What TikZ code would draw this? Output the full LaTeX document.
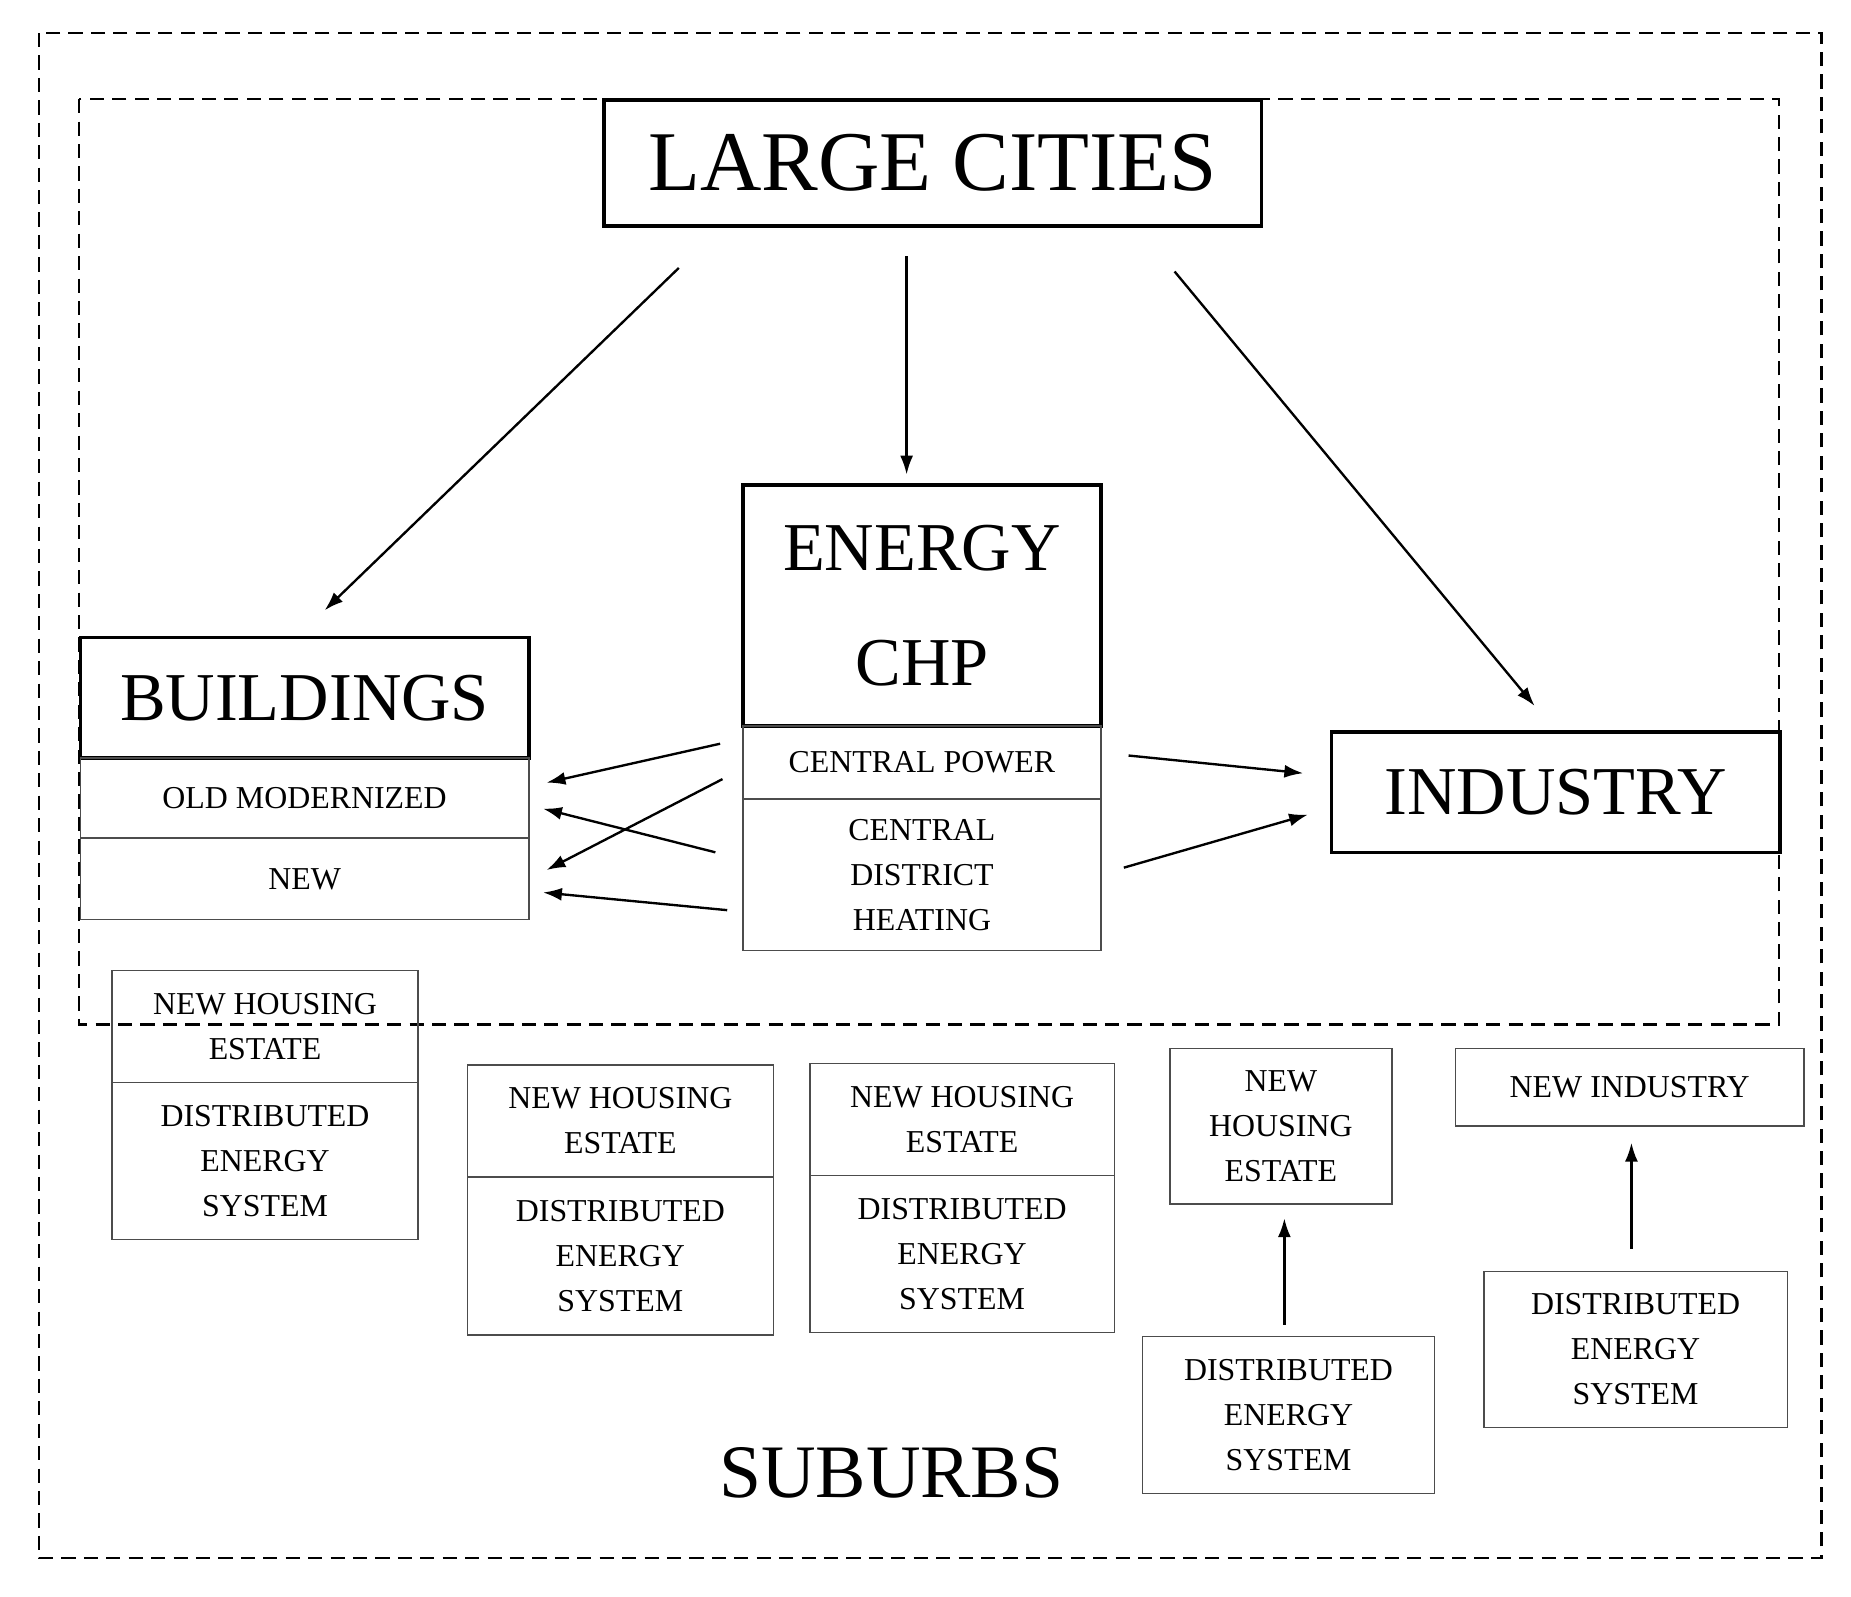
\documentclass[tikz,border=0pt]{standalone}
\usepackage{fontspec}
\setmainfont{Liberation Serif}
\usetikzlibrary{arrows.meta}
\begin{document}
\begin{tikzpicture}[x=1pt,y=-1pt,
  big/.style={draw,line width=3pt,inner sep=0pt,align=center},
  sm/.style={draw=black!70,line width=1.2pt,inner sep=0pt,align=center,font=\fontsize{27}{38}\selectfont},
  dash/.style={dashed,line width=2pt,dash pattern=on 12pt off 7pt},
  arr/.style={-{Latex[length=16pt,width=11pt]},line width=2pt}]
\useasboundingbox (0,0) rectangle (1568,1352);
\draw[dashed,line width=2pt,dash pattern=on 12pt off 7pt] (33,28) rectangle (1543,1320);
\draw[dashed,line width=2pt,dash pattern=on 12pt off 7pt] (67,84) rectangle (1507,868);
% top level
\node[big,minimum width=557,minimum height=107,font=\fontsize{72}{80}\selectfont] (lc) at (790,138) {LARGE CITIES};
\node[big,minimum width=303,minimum height=204,font=\fontsize{58}{98}\selectfont] (en) at (781,513) {ENERGY\\CHP};
\node[sm,minimum width=303,minimum height=62] (cp) at (781,646) {CENTRAL POWER};
\node[sm,minimum width=303,minimum height=128] (cdh) at (781,741) {CENTRAL\\DISTRICT\\HEATING};
\node[big,minimum width=380,minimum height=102,font=\fontsize{58}{70}\selectfont] (bu) at (258,591) {BUILDINGS};
\node[sm,minimum width=380,minimum height=68] (om) at (258,676) {OLD MODERNIZED};
\node[sm,minimum width=380,minimum height=69] (nw) at (258,744.5) {NEW};
\node[big,minimum width=380,minimum height=102,font=\fontsize{58}{70}\selectfont] (in) at (1318,671) {INDUSTRY};
% suburbs
\node[sm,minimum width=259,minimum height=95] (a1) at (224.5,869.5) {NEW HOUSING\\ESTATE};
\node[sm,minimum width=259,minimum height=133] (a2) at (224.5,983.5) {DISTRIBUTED\\ENERGY\\SYSTEM};
\node[sm,minimum width=259,minimum height=95] (b1) at (525.5,949.5) {NEW HOUSING\\ESTATE};
\node[sm,minimum width=259,minimum height=134] (b2) at (525.5,1064) {DISTRIBUTED\\ENERGY\\SYSTEM};
\node[sm,minimum width=258,minimum height=95] (c1) at (815,948.5) {NEW HOUSING\\ESTATE};
\node[sm,minimum width=258,minimum height=133] (c2) at (815,1062.5) {DISTRIBUTED\\ENERGY\\SYSTEM};
\node[sm,minimum width=188,minimum height=132] (d1) at (1085,954) {NEW\\HOUSING\\ESTATE};
\node[sm,minimum width=247,minimum height=133] (d2) at (1091.5,1198.5) {DISTRIBUTED\\ENERGY\\SYSTEM};
\node[sm,minimum width=295,minimum height=66] (e1) at (1380.5,921) {NEW INDUSTRY};
\node[sm,minimum width=257,minimum height=132] (e2) at (1385.5,1143) {DISTRIBUTED\\ENERGY\\SYSTEM};
\node[font=\fontsize{64}{70}\selectfont] (sub) at (755,1248) {SUBURBS};
% arrow endpoints
\coordinate (p1) at (575,227); \coordinate (q1) at (275,517);
\coordinate (p2) at (768,217); \coordinate (q2) at (768,402);
\coordinate (p3) at (995,230); \coordinate (q3) at (1300,598);
\coordinate (r1) at (610,630); \coordinate (s1) at (463,663);
\coordinate (r2) at (612,660); \coordinate (s2) at (463,737);
\coordinate (r3) at (606,722); \coordinate (s3) at (460,685);
\coordinate (r4) at (616,771); \coordinate (s4) at (460,756);
\coordinate (t1) at (956,640); \coordinate (u1) at (1104,655);
\coordinate (t2) at (952,735); \coordinate (u2) at (1108,690);
\coordinate (v1) at (1088,1122); \coordinate (w1) at (1088,1032);
\coordinate (v2) at (1382,1058); \coordinate (w2) at (1382,968);
\foreach \a/\b in {p1/q1,p2/q2,p3/q3,r1/s1,r2/s2,r3/s3,r4/s4,t1/u1,t2/u2,v1/w1,v2/w2}
  \draw[arr] (\a) -- (\b);
\end{tikzpicture}
\end{document}
